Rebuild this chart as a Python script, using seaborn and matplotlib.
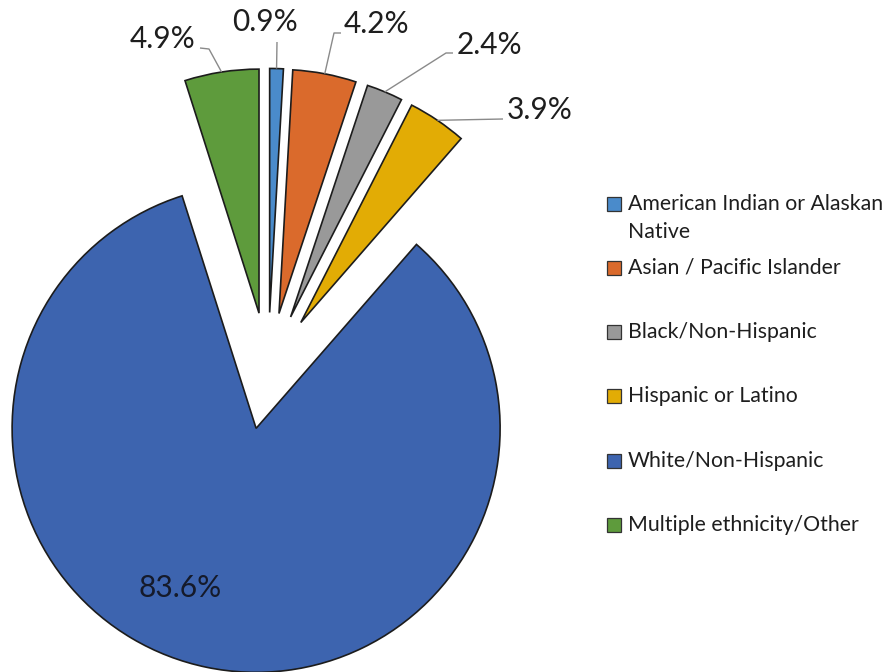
import matplotlib
matplotlib.use("Agg")
import matplotlib.pyplot as plt
from matplotlib.patches import Rectangle
import numpy as np
import seaborn as sns

# Data
categories = [
    "American Indian or Alaskan\nNative",
    "Asian / Pacific Islander",
    "Black/Non-Hispanic",
    "Hispanic or Latino",
    "White/Non-Hispanic",
    "Multiple ethnicity/Other",
]
shares = [0.9, 4.2, 2.4, 3.9, 83.6, 4.9]
value_labels = ["0.9%", "4.2%", "2.4%", "3.9%", "83.6%", "4.9%"]
colors = ["#4A8BCB", "#DA6A2C", "#999999", "#E2AC05", "#3D64AF", "#5E9B3C"]

sns.set_theme(style="white")
plt.rcParams["font.family"] = ["Lato", "DejaVu Sans"]

W, H = 886, 672
fig = plt.figure(figsize=(W / 100, H / 100), dpi=100)

# Pie axes: pixel layout -> data units (radius 1 == R px, centred at CX, CY)
CX, CY, R = 268, 371, 244


def to_data(px, py):
    return (px - CX) / R, (CY - py) / R


ax = fig.add_axes([0, 0, 1, 1])
wedges, _ = ax.pie(
    shares,
    colors=colors,
    startangle=90,
    counterclock=False,
    explode=[0.24] * len(shares),
    radius=1.0,
    wedgeprops=dict(edgecolor="#1c1c1c", linewidth=1.2),
)
ax.set_xlim(-CX / R, (W - CX) / R)
ax.set_ylim(-(H - CY) / R, CY / R)
ax.set_aspect("auto")
ax.axis("off")

txt_color = "#1e1e1e"
line_color = "#8a8a8a"
label_size = 21.5
legend_size = 15.3

# Outside labels: (text centre px, elbow points px)
label_layout = {
    0: ((265, 22), [(277, 42)]),
    1: ((376, 24), [(341, 33), (334, 33)]),
    2: ((489, 45), [(453, 53), (446, 53)]),
    3: ((540, 110), [(503, 119)]),
    5: ((163, 39), [(200, 48), (209, 49)]),
}

for i, w in enumerate(wedges):
    label = value_labels[i]
    if i in label_layout:
        (tx, ty), elbows = label_layout[i]
        mid = np.deg2rad((w.theta1 + w.theta2) / 2)
        cx, cy = w.center
        ex, ey = cx + w.r * np.cos(mid), cy + w.r * np.sin(mid)
        pts = [to_data(*p) for p in elbows] + [(ex, ey)]
        xs, ys = zip(*pts)
        ax.plot(xs, ys, color=line_color, lw=1.0, solid_capstyle="butt")
        dx, dy = to_data(tx, ty)
        ax.text(dx, dy, label, ha="center", va="center", fontsize=label_size,
                color=txt_color)
    else:
        dx, dy = to_data(180, 588)
        ax.text(dx, dy, label, ha="center", va="center", fontsize=label_size,
                color="#151a2a")

# Legend drawn in pixel space
lax = fig.add_axes([0, 0, 1, 1], facecolor="none")
lax.set_xlim(0, W)
lax.set_ylim(H, 0)
lax.axis("off")
legend_rows = [204, 268, 332, 396, 461, 525]
for name, col, y in zip(categories, colors, legend_rows):
    lax.add_patch(Rectangle((607, y - 7), 14, 14, facecolor=col,
                            edgecolor="#333333", linewidth=0.9))
    for k, line in enumerate(name.split("\n")):
        lax.text(628, y + 28 * k, line, ha="left", va="center",
                 fontsize=legend_size, color=txt_color)

fig.savefig("out.png", dpi=100, facecolor="white")
